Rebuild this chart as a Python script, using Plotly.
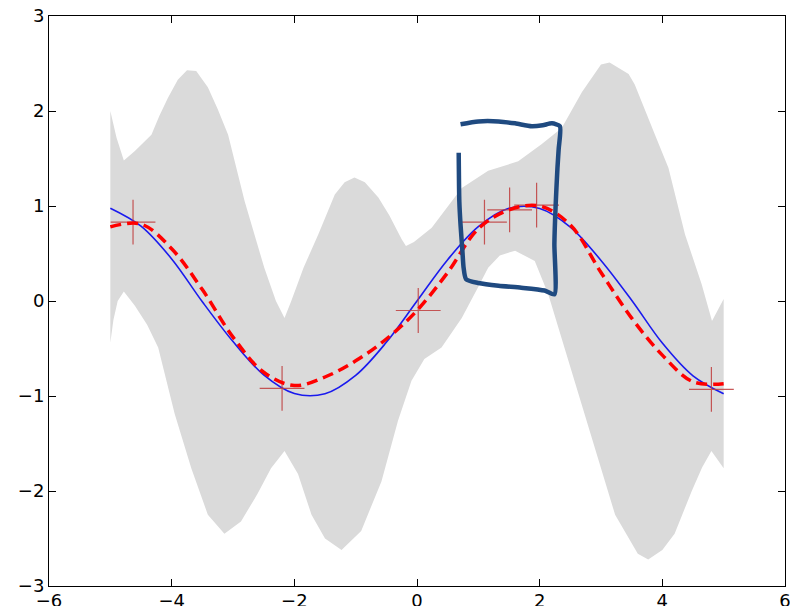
import plotly.graph_objects as go

# ---- data ----
x_curve = [-5.0, -4.5, -4.0, -3.5, -3.0, -2.5, -2.0, -1.5, -1.0, -0.5, 0.0,
           0.5, 1.0, 1.5, 2.0, 2.5, 3.0, 3.5, 4.0, 4.5, 5.0]
true_f = [0.977, 0.788, 0.443, -0.008, -0.427, -0.778, -0.974, -0.976, -0.783, -0.435, 0.0,
          0.435, 0.783, 0.976, 0.974, 0.778, 0.427, 0.008, -0.443, -0.788, -0.977]
pred_mean = [0.78, 0.81, 0.55, 0.12, -0.38, -0.75, -0.89, -0.80, -0.63, -0.40, -0.10,
             0.30, 0.76, 0.96, 1.00, 0.80, 0.30, -0.18, -0.57, -0.85, -0.87]

obs_x = [-4.63, -2.20, 0.02, 1.10, 1.51, 1.95, 4.80]
obs_y = [0.83, -0.92, -0.10, 0.83, 0.96, 1.01, -0.93]

upper_x = [-5.0, -4.9, -4.78, -4.6, -4.33, -4.2, -4.06, -3.9, -3.75, -3.6, -3.41, -3.25,
           -3.08, -2.81, -2.49, -2.3, -2.16, -2.05, -1.85, -1.61, -1.34, -1.18, -1.02,
           -0.85, -0.63, -0.45, -0.25, -0.18, -0.05, 0.24, 0.73, 1.16, 1.65, 2.03, 2.36,
           2.69, 3.0, 3.14, 3.45, 3.55, 3.88, 4.1, 4.37, 4.64, 4.81, 5.0]
upper_y = [2.00, 1.72, 1.48, 1.58, 1.75, 1.95, 2.14, 2.33, 2.43, 2.42, 2.25, 2.02,
           1.75, 1.05, 0.35, 0.0, -0.18, 0.0, 0.35, 0.70, 1.12, 1.25, 1.30,
           1.25, 1.09, 0.90, 0.65, 0.58, 0.62, 0.77, 1.19, 1.37, 1.47, 1.65, 1.82,
           2.20, 2.49, 2.51, 2.39, 2.28, 1.75, 1.40, 0.70, 0.18, -0.21, 0.02]

lower_x = [-5.0, -4.95, -4.88, -4.78, -4.6, -4.4, -4.22, -3.95, -3.68, -3.41, -3.14,
           -2.87, -2.6, -2.38, -2.16, -1.94, -1.72, -1.5, -1.23, -0.91, -0.58, -0.31,
           -0.09, 0.12, 0.4, 0.73, 1.0, 1.16, 1.35, 1.6, 1.92, 2.14, 2.25, 2.57, 2.9,
           3.23, 3.6, 3.77, 4.0, 4.2, 4.48, 4.65, 4.8, 5.0]
lower_y = [-0.44, -0.2, 0.0, 0.10, -0.05, -0.25, -0.49, -1.19, -1.76, -2.25, -2.45,
           -2.32, -2.03, -1.76, -1.58, -1.82, -2.25, -2.50, -2.62, -2.42, -1.90, -1.26,
           -0.84, -0.61, -0.49, -0.18, 0.15, 0.35, 0.48, 0.53, 0.42, 0.07, -0.14, -0.84, -1.54,
           -2.25, -2.66, -2.72, -2.62, -2.45, -2.00, -1.75, -1.58, -1.76]

# hand-drawn annotation stroke (data coordinates)
stroke_x = [0.71, 1.0, 1.33, 1.6, 1.87, 2.05, 2.20, 2.33, 2.31, 2.29, 2.26, 2.24, 2.24,
            2.08, 1.70, 1.33, 1.00, 0.80, 0.76, 0.74, 0.71, 0.69, 0.68]
stroke_y = [1.86, 1.89, 1.89, 1.87, 1.84, 1.85, 1.87, 1.84, 1.60, 1.40, 1.00, 0.60, 0.07,
            0.11, 0.14, 0.16, 0.19, 0.23, 0.35, 0.53, 0.80, 1.05, 1.56]

xticks = [-6, -4, -2, 0, 2, 4, 6]
yticks = [-3, -2, -1, 0, 1, 2, 3]

fig = go.Figure()

fig.add_trace(go.Scatter(
    x=upper_x + lower_x[::-1], y=upper_y + lower_y[::-1],
    fill="toself", fillcolor="#dadada", line=dict(width=0, color="#dadada"),
    mode="lines", hoverinfo="skip", showlegend=False))

fig.add_trace(go.Scatter(
    x=x_curve, y=true_f, mode="lines",
    line=dict(color="#1a1aee", width=1.6, shape="spline"), showlegend=False))

fig.add_trace(go.Scatter(
    x=obs_x, y=obs_y, mode="markers",
    marker=dict(symbol="cross-thin", size=32,
                line=dict(color="rgba(190,60,60,0.85)", width=1.2)),
    showlegend=False))

fig.add_trace(go.Scatter(
    x=x_curve, y=pred_mean, mode="lines",
    line=dict(color="#ff0000", width=3.5, dash="11px,6px", shape="spline"),
    showlegend=False))

fig.add_trace(go.Scatter(
    x=stroke_x, y=stroke_y, mode="lines",
    line=dict(color="#1f4a80", width=4.5, shape="spline", smoothing=0.6),
    showlegend=False))

axis_common = dict(
    showgrid=False, zeroline=False, showline=True, linecolor="black", linewidth=1,
    mirror="allticks", ticks="inside", ticklen=7, tickcolor="black", tickwidth=1,
    automargin=False, ticklabeloverflow="allow",
    tickfont=dict(family="DejaVu Sans", size=18, color="black"))

fig.update_xaxes(range=[-6, 6], tickvals=xticks, ticklabelstandoff=-2,
                 ticktext=[f"{v}".replace("-", "\u2212") for v in xticks], **axis_common)
fig.update_yaxes(range=[-3, 3], tickvals=yticks,
                 ticktext=[f"{v}".replace("-", "\u2212") for v in yticks], **axis_common)

fig.update_layout(
    width=790, height=598,
    margin=dict(l=41, r=13, t=8, b=20),
    paper_bgcolor="white", plot_bgcolor="white",
    font=dict(family="DejaVu Sans", size=18, color="black"))

fig.write_html("out.html")
